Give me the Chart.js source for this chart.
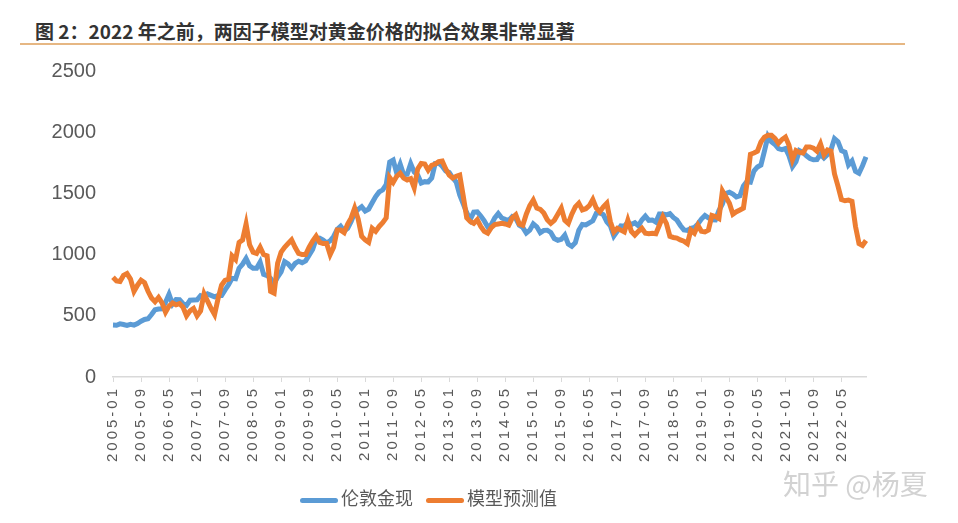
<!DOCTYPE html>
<html>
<head>
<meta charset="utf-8">
<script src="https://cdn.jsdelivr.net/npm/chart.js@4"></script>
<style>
  body { margin: 0; background: #fff; }
  #wrap { position: relative; width: 958px; height: 523px; overflow: hidden; }
  #title { position: absolute; left: 35px; top: 17px; font: bold 19px "Noto Sans CJK SC", sans-serif; color: #333; white-space: nowrap; }
  #rule { position: absolute; left: 20px; top: 43px; width: 885px; height: 2px; background: #E6B783; }
  canvas { position: absolute; left: 0; top: 0; }
  .key { position: absolute; top: 484px; font: 18px "Noto Sans CJK SC", sans-serif; color: #595959; white-space: nowrap; }
  .key i { display: inline-block; width: 38px; height: 5px; border-radius: 3px; vertical-align: middle; margin-right: 3px; }
  #mark { position: absolute; left: 783px; top: 463px; font: 28px "Noto Sans CJK SC", sans-serif; color: #d2d2d2; white-space: nowrap; }
</style>
</head>
<body>
<div id="wrap">
  <div id="title">图 2：2022 年之前，两因子模型对黄金价格的拟合效果非常显著</div>
  <div id="rule"></div>
  <canvas id="myChart" width="958" height="523"></canvas>
  <div class="key" style="left:300px"><i style="background:#5B9BD5"></i>伦敦金现</div>
  <div class="key" style="left:426px"><i style="background:#ED7D31"></i>模型预测值</div>
  <div id="mark">知乎 @杨夏</div>
</div>
<script>
// Monthly labels 2005-01 .. 2022-12
const months = [];
for (let y = 2005; y <= 2022; y++) {
  for (let m = 1; m <= 12; m++) {
    months.push(y + '-' + String(m).padStart(2, '0'));
  }
}

// 伦敦金现 (USD/oz), one row per year
const londonGold = [
  424, 423, 434, 429, 422, 430, 424, 437, 456, 470, 476, 510,
  549, 555, 557, 610, 676, 596, 633, 632, 599, 585, 627, 629,
  631, 665, 654, 679, 667, 655, 665, 665, 712, 754, 806, 803,
  889, 922, 968, 909, 888, 889, 939, 839, 829, 806, 761, 816,
  858, 943, 924, 890, 928, 946, 934, 949, 996, 1043, 1127, 1134,
  1118, 1095, 1113, 1148, 1205, 1232, 1193, 1215, 1271, 1343, 1370, 1391,
  1356, 1372, 1424, 1474, 1512, 1529, 1572, 1756, 1772, 1666, 1739, 1652,
  1656, 1743, 1674, 1650, 1585, 1596, 1594, 1626, 1744, 1747, 1722, 1684,
  1671, 1627, 1593, 1487, 1414, 1343, 1286, 1347, 1349, 1316, 1275, 1225,
  1244, 1300, 1336, 1299, 1288, 1279, 1311, 1296, 1239, 1222, 1176, 1200,
  1251, 1227, 1179, 1198, 1199, 1181, 1131, 1117, 1125, 1159, 1086, 1068,
  1097, 1199, 1246, 1242, 1260, 1276, 1337, 1341, 1326, 1267, 1236, 1152,
  1192, 1234, 1231, 1266, 1246, 1260, 1236, 1283, 1315, 1280, 1283, 1265,
  1331, 1331, 1325, 1335, 1303, 1282, 1238, 1202, 1198, 1215, 1221, 1250,
  1291, 1320, 1300, 1285, 1284, 1359, 1413, 1500, 1510, 1495, 1471, 1480,
  1560, 1597, 1592, 1683, 1716, 1732, 1846, 1968, 1922, 1900, 1866, 1858,
  1867, 1808, 1718, 1760, 1850, 1834, 1807, 1785, 1775, 1777, 1820, 1790,
  1817, 1856, 1948, 1923, 1849, 1837, 1733, 1765, 1681, 1665, 1726, 1798
];

// 模型预测值
const modelFit = [
  815, 785, 780, 830, 845, 800, 700, 750, 790, 770, 700, 645,
  615, 650, 605, 530, 580, 605, 590, 600, 570, 500, 540, 560,
  500, 540, 680, 620, 560, 510, 640, 750, 790, 800, 990, 960,
  1100, 1120, 1250, 1080, 1020, 1010, 1060, 1000, 990, 700, 685, 930,
  1020, 1060, 1090, 1120, 1060, 1010, 1000, 1000, 1060, 1110, 1150, 1100,
  1090, 1090, 1000, 1060, 1200, 1200, 1180, 1250, 1300, 1380, 1290, 1150,
  1120, 1100, 1215, 1190, 1230, 1260, 1300, 1630, 1590, 1640, 1665, 1625,
  1610, 1620, 1545, 1700, 1745, 1740, 1690, 1730, 1740, 1760, 1765, 1700,
  1650, 1625, 1640, 1650, 1480, 1300, 1270, 1255, 1285, 1230, 1190, 1175,
  1220, 1245, 1250, 1255, 1250, 1240, 1300, 1325, 1250, 1240, 1330, 1400,
  1445, 1380, 1370, 1340, 1285, 1255, 1280, 1330, 1380, 1280, 1255, 1330,
  1390, 1420, 1365, 1375, 1400, 1450, 1380, 1350, 1390, 1420, 1270, 1185,
  1215, 1200, 1185, 1280, 1190, 1160, 1190, 1215, 1175, 1170, 1175, 1170,
  1240, 1310, 1255, 1150, 1140, 1135, 1120, 1110, 1090, 1200, 1175, 1240,
  1190, 1185, 1200, 1320, 1310, 1295, 1520, 1470, 1420, 1330, 1350, 1365,
  1380, 1580, 1820, 1830, 1845, 1920, 1960, 1975, 1975, 1950, 1910, 1940,
  1960, 1895, 1775, 1850, 1835, 1830, 1880, 1880, 1870, 1845, 1905, 1815,
  1855, 1845, 1660, 1560, 1450, 1440, 1445, 1435, 1230, 1090, 1075, 1115
];

const yTicks = [0, 500, 1000, 1500, 2000, 2500];

// the x labels in the source are spaced out, so wrap only that scale's label drawing
const spacedXLabels = {
  id: 'spacedXLabels',
  afterLayout(chart) {
    const xs = chart.scales.x;
    if (xs._spaced) return;
    const orig = xs.drawLabels;
    xs.drawLabels = function (area) {
      chart.ctx.letterSpacing = '3px';
      orig.call(this, area);
      chart.ctx.letterSpacing = '0px';
    };
    xs._spaced = true;
  }
};

const ctx = document.getElementById('myChart').getContext('2d');
new Chart(ctx, {
  type: 'line',
  data: {
    labels: months,
    datasets: [
      {
        label: '伦敦金现',
        data: londonGold,
        borderColor: '#5B9BD5',
        backgroundColor: '#5B9BD5',
        borderWidth: 5,
        pointRadius: 0,
        tension: 0,
        order: 1
      },
      {
        label: '模型预测值',
        data: modelFit,
        borderColor: '#ED7D31',
        backgroundColor: '#ED7D31',
        borderWidth: 5,
        pointRadius: 0,
        tension: 0,
        order: 0
      }
    ]
  },
  options: {
    responsive: false,
    animation: false,
    layout: { padding: { top: 71, right: 92, bottom: 0, left: 0 } },
    plugins: {
      legend: { display: false },
      tooltip: { enabled: false }
    },
    scales: {
      x: {
        offset: false,
        grid: { display: true, drawOnChartArea: false, drawTicks: true, tickLength: 5, color: '#D9D9D9' },
        border: { color: '#D9D9D9', width: 1.5 },
        ticks: {
          autoSkip: false,
          maxRotation: 90,
          minRotation: 90,
          padding: 4,
          color: '#595959',
          font: { family: 'Liberation Sans', size: 15 },
          callback: function (value, index) {
            return index % 8 === 0 ? this.getLabelForValue(value) : null;
          }
        },
        afterFit: function (scale) { scale.height = 146; }
      },
      y: {
        min: 0,
        max: 2500,
        grid: { display: false, drawTicks: false },
        border: { display: false },
        afterBuildTicks: function (scale) { scale.ticks = yTicks.map(v => ({ value: v })); },
        ticks: {
          padding: 17,
          color: '#595959',
          font: { family: 'Liberation Sans', size: 20 },
          callback: v => String(v)
        },
        afterFit: function (scale) { scale.width = 113; }
      }
    }
  },
  plugins: [spacedXLabels]
});
</script>
</body>
</html>
